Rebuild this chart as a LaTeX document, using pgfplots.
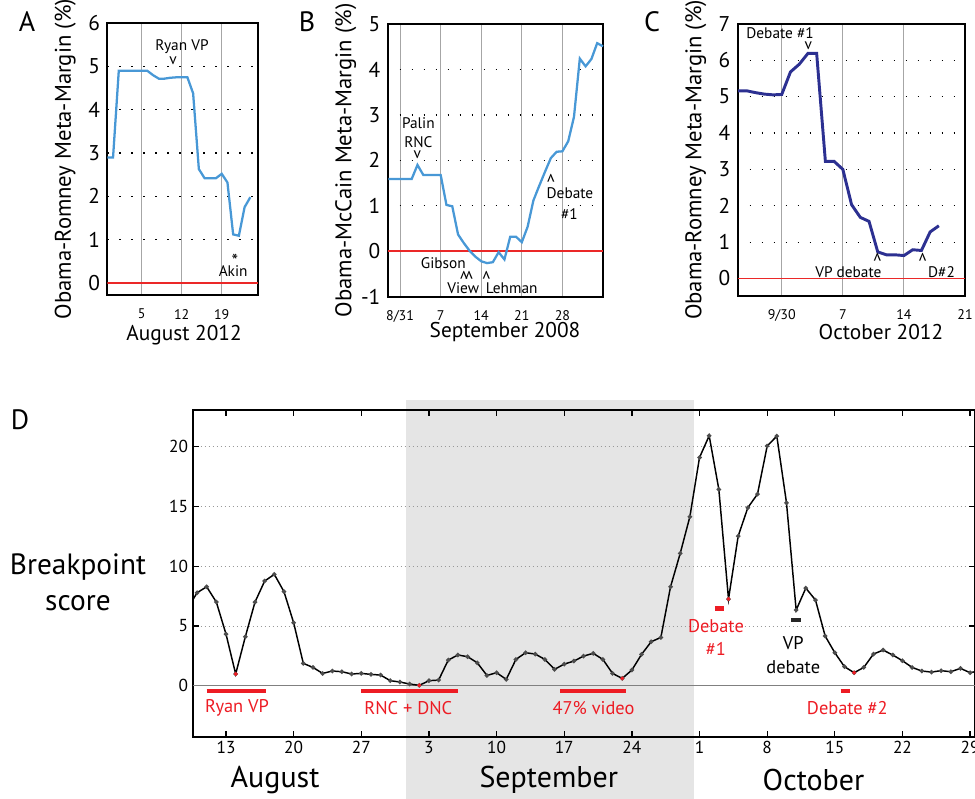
\documentclass[border=0pt]{standalone}
\usepackage{pgfplots}
\pgfplotsset{compat=1.18}
\usepackage{fontspec}
\setmainfont{PT Sans}

\definecolor{mmblue}{RGB}{72,152,214}
\definecolor{mmdark}{RGB}{44,48,145}
\definecolor{zred}{RGB}{235,40,40}
\definecolor{dred}{RGB}{237,28,36}
\definecolor{bgshade}{RGB}{229,229,229}

\newcommand\fs[2]{\fontsize{#1}{#2}\selectfont}

\pgfplotsset{
  mm/.style={
    scale only axis, anchor=south west,
    axis line style={line width=1.4pt, black},
    tick style={draw=none},
    xmajorgrids, ymajorgrids,
    major x grid style={gray!70, line width=0.8pt},
    major y grid style={black, line width=0.9pt, dash pattern=on 1pt off 8pt},
    extra y ticks={0}, extra y tick style={grid=none},
    yticklabel style={font=\fs{16}{18}, xshift=-2pt},
    xticklabel style={font=\fs{10.5}{12}, yshift=-7pt},
    ylabel style={font=\fs{17}{18}, anchor=center},
    xlabel style={font=\fs{16}{18}, anchor=center},
    /pgf/number format/assume math mode=true,
    clip mode=individual,
  },
}
\tikzset{ann/.style={font=\fs{11.5}{13}}, car/.style={font=\fs{11.5}{13}, rotate=180}}

\begin{document}
\begin{tikzpicture}
\useasboundingbox (0,0) rectangle (731.25pt,599.25pt);

% ---------------- A ----------------
\begin{axis}[mm,
  at={(80.5pt,378pt)}, width=113.25pt, height=203.8pt,
  xmin=-1, xmax=25.4, ymin=-0.28, ymax=6,
  xtick={5,12,19}, ytick={1,...,6},
  ylabel={Obama-Romney Meta-Margin (\%)},
  ylabel style={at={(axis description cs:-0.278,0.5)}},
  xlabel={August 2012},
  xlabel style={at={(axis description cs:0.508,-0.147)}},
]
\addplot[zred, line width=1.3pt] coordinates {(-1,0)(25.4,0)};
\addplot[mmblue, line width=1.7pt] coordinates {
 (-1,2.90)(0,2.90)(1,4.90)(2,4.90)(3,4.90)(4,4.90)(5,4.90)(6,4.90)(7,4.80)
 (8,4.72)(9,4.72)(10,4.74)(11,4.75)(12,4.75)(13,4.75)(14,4.38)(15,2.63)
 (16,2.42)(17,2.42)(18,2.42)(19,2.52)(20,2.32)(21,1.12)(22,1.09)(23,1.75)(24,1.98)};
\node[ann] at (axis cs:12.06,5.45) {Ryan VP};
\node[ann] at (axis cs:10.5,5.14) {v};
\node[font=\fs{14}{14}] at (axis cs:21.3,0.50) {*};
\node[ann] at (axis cs:21.0,0.27) {Akin};
\end{axis}

% ---------------- B ----------------
\begin{axis}[mm,
  at={(290.8pt,376.7pt)}, width=161.7pt, height=204.5pt,
  xmin=-2.13, xmax=35.06, ymin=-1, ymax=5,
  xtick={0,7,14,21,28}, xticklabels={8/31,7,14,21,28}, ytick={-1,1,2,3,4,5},
  ylabel={Obama-McCain Meta-Margin (\%)},
  ylabel style={at={(axis description cs:-0.195,0.5)}},
  xlabel={September 2008},
  xlabel style={at={(axis description cs:0.544,-0.128)}},
]
\addplot[zred, line width=1.3pt] coordinates {(-2.13,0)(35.06,0)};
\addplot[mmblue, line width=1.7pt] coordinates {
 (-2,1.59)(-1,1.59)(0,1.59)(1,1.59)(2,1.59)(3,1.90)(4,1.68)(5,1.68)(6,1.68)(7,1.68)
 (8,1.02)(9,0.99)(10,0.37)(11,0.18)(12,0.01)(13,-0.12)(14,-0.22)(15,-0.26)(16,-0.24)
 (17,-0.02)(18,-0.18)(19,0.32)(20,0.32)(21,0.20)(22,0.54)(23,1.12)(24,1.44)(25,1.75)
 (26,2.05)(27,2.19)(28,2.20)(29,2.42)(30,2.96)(31,4.24)(32,4.07)(33,4.23)(34,4.58)(35,4.51)};
\node[ann] at (axis cs:3.16,2.83) {Palin};
\node[ann] at (axis cs:3.16,2.40) {RNC};
\node[ann] at (axis cs:2.99,2.12) {v};
\node[ann] at (axis cs:7.47,-0.26) {Gibson};
\node[car] at (axis cs:11.0,-0.52) {v};
\node[car] at (axis cs:11.9,-0.52) {v};
\node[ann] at (axis cs:10.9,-0.81) {View};
\node[car] at (axis cs:14.9,-0.52) {v};
\node[ann] at (axis cs:19.25,-0.81) {Lehman};
\node[car] at (axis cs:26.0,1.60) {v};
\node[ann] at (axis cs:29.3,1.28) {Debate};
\node[ann] at (axis cs:29.2,0.83) {\#1};
\end{axis}

% ---------------- C ----------------
\begin{axis}[mm,
  at={(553.3pt,377.3pt)}, width=170.5pt, height=204pt,
  xmin=-5.04, xmax=21, ymin=-0.48, ymax=7,
  xtick={0,7,14,21}, xticklabels={9/30,7,14,21}, ytick={1,...,7},
  ylabel={Obama-Romney Meta-Margin (\%)},
  ylabel style={at={(axis description cs:-0.185,0.5)}},
  xlabel={October 2012},
  xlabel style={at={(axis description cs:0.63,-0.132)}},
]
\addplot[zred, line width=1.3pt] coordinates {(-5.04,0)(21,0)};
\addplot[mmdark, line width=2.2pt] coordinates {
 (-5,5.16)(-4,5.16)(-3,5.11)(-2,5.07)(-1,5.05)(0,5.06)(1,5.68)(2,5.89)(3,6.19)(4,6.19)
 (5,3.22)(6,3.22)(7,3.00)(8,2.03)(9,1.68)(10,1.57)(11,0.73)(12,0.65)(13,0.65)(14,0.63)
 (15,0.79)(16,0.77)(17,1.28)(18,1.45)};
\node[ann] at (axis cs:-0.19,6.75) {Debate \#1};
\node[ann] at (axis cs:3.05,6.40) {v};
\node[car] at (axis cs:10.95,0.57) {v};
\node[ann] at (axis cs:7.63,0.18) {VP debate};
\node[car] at (axis cs:16.15,0.57) {v};
\node[ann] at (axis cs:18.3,0.18) {D\#2};
\end{axis}

% ---------------- D ----------------
\fill[bgshade] (304.5pt,0pt) rectangle (520.3pt,299.25pt);
\begin{axis}[
  scale only axis, anchor=south west,
  at={(144.5pt,46.7pt)}, width=586.7pt, height=245pt,
  xmin=9.55, xmax=90.5, ymin=-4.27, ymax=23.07,
  axis line style={line width=1.4pt, black},
  tick align=inside, major tick length=4.5pt,
  tick style={black, line width=1pt},
  xtick={13,20,27,34,41,48,55,62,69,76,83,90},
  xticklabels={13,20,27,3,10,17,24,1,8,15,22,29},
  ytick={0,5,10,15,20},
  ymajorgrids,
  major y grid style={gray!80, line width=0.7pt, dash pattern=on 0.7pt off 2.3pt},
  ticklabel style={font=\fs{13}{15}},
  /pgf/number format/assume math mode=true,
  clip mode=individual,
]
\addplot[gray, line width=0.9pt] coordinates {(9.55,0)(90.5,0)};
\addplot[black, line width=1.1pt, mark=*, mark size=1.1pt,
  mark options={fill=black!70, draw=black!70}] coordinates {
 (9,6.4)(10,7.78)(11,8.28)(12,7.0)(13,4.32)(14,0.98)(15,4.10)(16,7.0)(17,8.76)
 (18,9.32)(19,7.87)(20,5.27)(21,1.87)(22,1.53)(23,1.03)(24,1.23)(25,1.17)(26,0.98)
 (27,1.03)(28,0.95)(29,0.89)(30,0.42)(31,0.31)(32,0.14)(33,0.03)(34,0.42)(35,0.47)
 (36,2.15)(37,2.57)(38,2.43)(39,1.92)(40,0.86)(41,1.09)(42,0.53)(43,2.20)(44,2.76)
 (45,2.65)(46,2.20)(47,1.37)(48,1.81)(49,2.06)(50,2.48)(51,2.71)(52,2.20)(53,1.03)
 (54,0.61)(55,1.31)(56,2.62)(57,3.68)(58,4.04)(59,8.28)(60,11.07)(61,14.14)(62,19.1)
 (63,20.92)(64,16.43)(65,7.25)(66,12.52)(67,14.9)(68,16.04)(69,20.06)(70,20.89)
 (71,15.31)(72,6.33)(73,8.17)(74,7.17)(75,4.16)(76,2.76)(77,1.59)(78,1.09)(79,1.53)
 (80,2.65)(81,2.98)(82,2.57)(83,2.09)(84,1.53)(85,1.23)(86,1.14)(87,1.26)(88,1.17)
 (89,1.45)(90,1.09)(91,1.25)};
\addplot[only marks, mark=*, mark size=1.3pt, dred] coordinates {
 (14,0.98)(33,0.03)(54,0.61)(65,7.25)(78,1.09)};
\addplot[dred, line width=3.4pt] coordinates {(11,-0.45)(17.1,-0.45)};
\addplot[dred, line width=3.4pt] coordinates {(27,-0.45)(37,-0.45)};
\addplot[dred, line width=3.4pt] coordinates {(47.6,-0.45)(54.4,-0.45)};
\addplot[dred, line width=3.4pt] coordinates {(76.6,-0.45)(77.6,-0.45)};
\addplot[dred, line width=3.4pt] coordinates {(63.6,6.47)(64.5,6.47)};
\addplot[black!85, line width=3.4pt] coordinates {(71.5,5.5)(72.5,5.5)};
\node[dred, font=\fs{13.8}{17.5}] at (axis cs:14.14,-1.87) {Ryan VP};
\node[dred, font=\fs{13.8}{17.5}] at (axis cs:31.86,-1.87) {RNC + DNC};
\node[dred, font=\fs{13.8}{17.5}] at (axis cs:51.03,-1.87) {47\% video};
\node[dred, font=\fs{13.8}{17.5}] at (axis cs:77.3,-1.87) {Debate \#2};
\node[dred, font=\fs{13.8}{17.5}, align=center] at (axis cs:63.7,4.03) {Debate\\\#1};
\node[font=\fs{13.8}{17.5}, align=center] at (axis cs:71.7,2.57) {VP\\debate};
\node[font=\fs{22.5}{24}] at (axis cs:18.08,-7.9) {August};
\node[font=\fs{22.5}{24}] at (axis cs:46.4,-7.9) {September};
\node[font=\fs{22.5}{24}] at (axis cs:73.8,-7.9) {October};
\end{axis}

\node[font=\fs{22}{27}, align=center] at (58.5pt,162.75pt) {Breakpoint\\score};
\node[font=\fs{21}{24}] at (20.25pt,582.75pt) {A};
\node[font=\fs{21}{24}] at (230.25pt,582.75pt) {B};
\node[font=\fs{21}{24}] at (489pt,582.75pt) {C};
\node[font=\fs{21}{24}] at (15pt,284.25pt) {D};
\end{tikzpicture}
\end{document}
